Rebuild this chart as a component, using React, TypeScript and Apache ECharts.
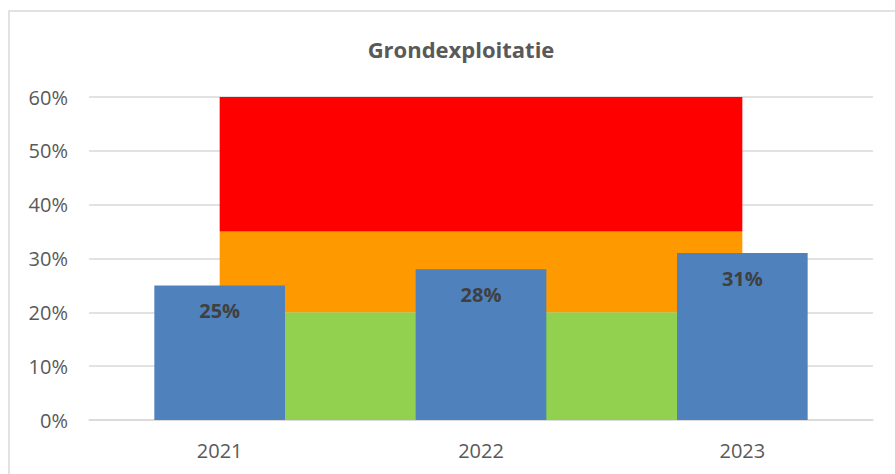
import React, { useEffect, useRef } from "react";
import * as echarts from "echarts";

const categories = ["2021", "2022", "2023"];
const barValues = [25, 28, 31];
const greenBand = [20, 20, 20];
const orangeBand = [15, 15, 15];
const redBand = [25, 25, 25];
const titleText = "Grondexploitatie";

const FONT = "'Open Sans', 'Noto Sans', sans-serif";

export default function App() {
  const ref = useRef<HTMLDivElement>(null);
  useEffect(() => {
    if (!ref.current) return;
    const chart = echarts.init(ref.current, undefined, { renderer: "svg" });
    const areaSeries = (name: string, data: number[], color: string) => ({
      name,
      type: "line",
      stack: "bands",
      data,
      symbol: "none",
      lineStyle: { width: 0, opacity: 0 },
      areaStyle: { color, opacity: 1 },
      itemStyle: { color },
      z: 1,
      silent: true,
    });
    chart.setOption({
      animation: false,
      textStyle: { fontFamily: FONT },
      title: {
        text: titleText,
        left: 456,
        textAlign: "center",
        top: 33,
        textStyle: { fontFamily: FONT, fontSize: 22, fontWeight: "bold", color: "#595959" },
      },
      graphic: [
        {
          type: "rect",
          shape: { x: 9, y: 11, width: 920, height: 500 },
          style: { fill: "none", stroke: "#d9d9d9", lineWidth: 1.5 },
          silent: true,
          z: -10,
        },
      ],
      grid: { left: 89, right: 22, top: 97, bottom: 54, containLabel: false },
      xAxis: {
        type: "category",
        data: categories,
        boundaryGap: true,
        axisTick: { show: false },
        axisLine: { lineStyle: { color: "#d9d9d9", width: 1.5 } },
        axisLabel: { color: "#595959", fontSize: 20, fontFamily: FONT, margin: 20 },
      },
      yAxis: {
        type: "value",
        min: 0,
        max: 60,
        interval: 10,
        axisLine: { show: false },
        axisTick: { show: false },
        splitLine: { lineStyle: { color: "#d9d9d9", width: 1.5 } },
        axisLabel: { color: "#595959", fontSize: 20, fontFamily: FONT, margin: 21, formatter: "{value}%" },
      },
      series: [
        areaSeries("Groen", greenBand, "#92D050"),
        areaSeries("Oranje", orangeBand, "#FF9900"),
        areaSeries("Rood", redBand, "#FF0000"),
        {
          name: "Grondexploitatie",
          type: "bar",
          data: barValues,
          barWidth: "50%",
          z: 3,
          itemStyle: { color: "#4F81BD" },
          label: {
            show: true,
            position: "insideTop",
            distance: 15,
            formatter: "{c}%",
            color: "#404040",
            fontSize: 20,
            fontWeight: "bold",
            fontFamily: FONT,
          },
        },
      ],
    });
    return () => chart.dispose();
  }, []);
  return (
    <div
      ref={ref}
      style={{ position: "absolute", left: 0, top: 0, width: 895, height: 474, background: "#fff" }}
    />
  );
}
